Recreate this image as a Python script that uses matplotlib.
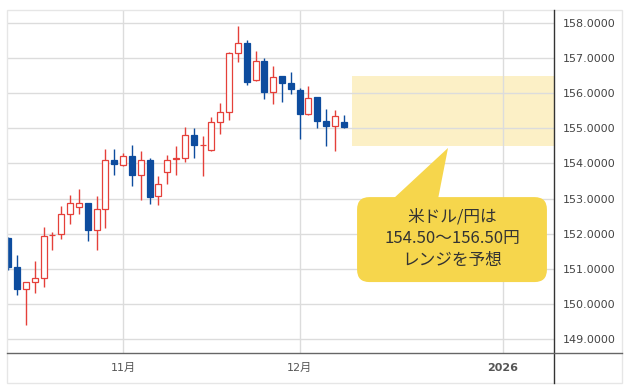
import numpy as np
import pandas as pd
import matplotlib
matplotlib.use('Agg')
import matplotlib.pyplot as plt
from matplotlib.patches import Rectangle, FancyBboxPatch, Polygon
from matplotlib.lines import Line2D

plt.rcParams['font.family'] = ['DejaVu Sans', 'Noto Sans CJK JP']

# 米ドル/円 日足 (2025-10-15 ~ 2025-12-08, 平日のみ)
dates = pd.bdate_range('2025-10-15', '2025-12-08')
opens = [151.87, 151.06, 150.41, 150.62, 150.74, 151.95, 151.98, 152.55, 152.76, 152.88,
         152.09, 152.71, 154.11, 153.94, 154.20, 153.66, 154.11, 153.06, 153.76, 154.12,
         154.16, 154.81, 154.51, 154.38, 155.19, 155.46, 157.15, 157.44, 156.37, 156.92,
         156.03, 156.48, 156.30, 156.08, 155.40, 155.88, 155.22, 155.06, 155.19]
highs = [151.90, 151.39, 150.62, 151.23, 152.20, 152.05, 152.78, 153.09, 153.28, 152.88,
         153.06, 154.42, 154.40, 154.30, 154.52, 154.35, 154.14, 153.63, 154.25, 154.49,
         155.04, 155.02, 154.77, 155.33, 155.73, 157.18, 157.91, 157.52, 157.21, 156.99,
         156.76, 156.49, 156.59, 156.14, 156.19, 155.90, 155.56, 155.52, 155.38]
lows = [150.95, 150.25, 149.39, 150.30, 150.49, 151.52, 151.84, 152.26, 152.57, 151.78,
        151.54, 152.17, 153.66, 153.92, 153.35, 152.97, 152.85, 152.81, 153.42, 153.66,
        154.05, 154.14, 153.64, 154.36, 154.83, 155.23, 156.90, 156.23, 156.36, 155.83,
        155.69, 155.74, 155.98, 154.69, 155.39, 155.02, 154.50, 154.36, 155.02]
closes = [151.04, 150.41, 150.62, 150.74, 151.93, 151.97, 152.55, 152.86, 152.88, 152.10,
          152.71, 154.11, 153.99, 154.20, 153.66, 154.09, 153.04, 153.40, 154.11, 154.15,
          154.81, 154.52, 154.53, 155.17, 155.46, 157.15, 157.44, 156.32, 156.92, 156.03,
          156.46, 156.30, 156.11, 155.40, 155.86, 155.21, 155.06, 155.35, 155.03]

yticks = [149, 150, 151, 152, 153, 154, 155, 156, 157, 158]
range_low, range_high = 154.5, 156.5
callout = "米ドル/円は\n154.50～156.50円\nレンジを予想"

red = '#e5403a'
blue = '#0d4c9e'
grid_c = '#dcdcdc'

W, H = 633, 388
fig = plt.figure(figsize=(W / 100, H / 100), dpi=100)
ax = fig.add_axes([7 / W, (H - 353) / H, 547 / W, 342 / H])

x = np.arange(len(dates))
ax.set_xlim(-0.14, 61.8)
ax.set_ylim(148.6, 158.34)

# 月の始まり + 2026年1月1日
month_pos = [i for i in range(1, len(dates)) if dates[i].month != dates[i - 1].month]
jan_pos = len(pd.bdate_range(dates[0], '2026-01-01')) - 1
xt = month_pos + [jan_pos]
xl = ['%d月' % dates[i].month for i in month_pos] + ['2026']

for v in yticks:
    ax.axhline(v, color=grid_c, lw=1.0, zorder=1)
for p in xt:
    ax.axvline(p, color=grid_c, lw=1.0, zorder=1)

# 予想レンジ
ax.add_patch(Rectangle((38.9, range_low), 61.8 - 38.9, range_high - range_low,
                       facecolor='#fcf0c6', edgecolor='none', zorder=0.5))

# ローソク足
for i in x:
    o, hh, ll, c = opens[i], highs[i], lows[i], closes[i]
    col = red if c >= o else blue
    ax.vlines(i, ll, hh, color=col, lw=1.0, zorder=2)
    body = max(abs(c - o), 0.02)
    if c >= o:
        ax.add_patch(Rectangle((i - 0.34, min(o, c)), 0.68, body, facecolor='white',
                               edgecolor=col, lw=0.9, zorder=3))
    else:
        ax.add_patch(Rectangle((i - 0.34, min(o, c)), 0.68, body, facecolor=col,
                               edgecolor=col, lw=0.9, zorder=3))

# 吹き出し
yc = '#f6d64c'
ax.add_patch(FancyBboxPatch((39.5, 150.62), 21.5, 2.42,
                            boxstyle='round,pad=0,rounding_size=1.4',
                            mutation_aspect=0.2515, facecolor=yc, edgecolor='none', zorder=4))
ax.add_patch(Polygon([(43.2, 152.9), (48.6, 152.9), (49.8, 154.44)], closed=True,
                     facecolor=yc, edgecolor='none', zorder=4))
ax.text(50.3, 151.85, callout, ha='center', va='center', fontsize=12, linespacing=1.35,
        color='#333333', family=['Noto Sans CJK JP'], zorder=5)

ax.yaxis.tick_right()
ax.set_yticks(yticks)
ax.set_yticklabels(['%.4f' % v for v in yticks])
ax.tick_params(axis='y', length=0, pad=6.5, labelsize=8, labelcolor='#444444')
ax.set_xticks(xt)
ax.set_xticklabels(xl)
ax.tick_params(axis='x', length=0, pad=7, labelsize=8, labelcolor='#555555')
ax.get_xticklabels()[-1].set_fontweight('bold')
for s in ax.spines.values():
    s.set_visible(False)

# 外枠と軸線
fig.add_artist(Rectangle((7 / W, 5 / H), 615 / W, 373 / H, transform=fig.transFigure,
                         facecolor='none', edgecolor='#e6e6e6', lw=1.0))
fig.add_artist(Line2D([554 / W, 554 / W], [5 / H, 378 / H], transform=fig.transFigure,
                      color='#333333', lw=1.0))
fig.add_artist(Line2D([7 / W, 622 / W], [35 / H, 35 / H], transform=fig.transFigure,
                      color='#666666', lw=1.0))

fig.savefig('out.png', dpi=100, facecolor='white')
